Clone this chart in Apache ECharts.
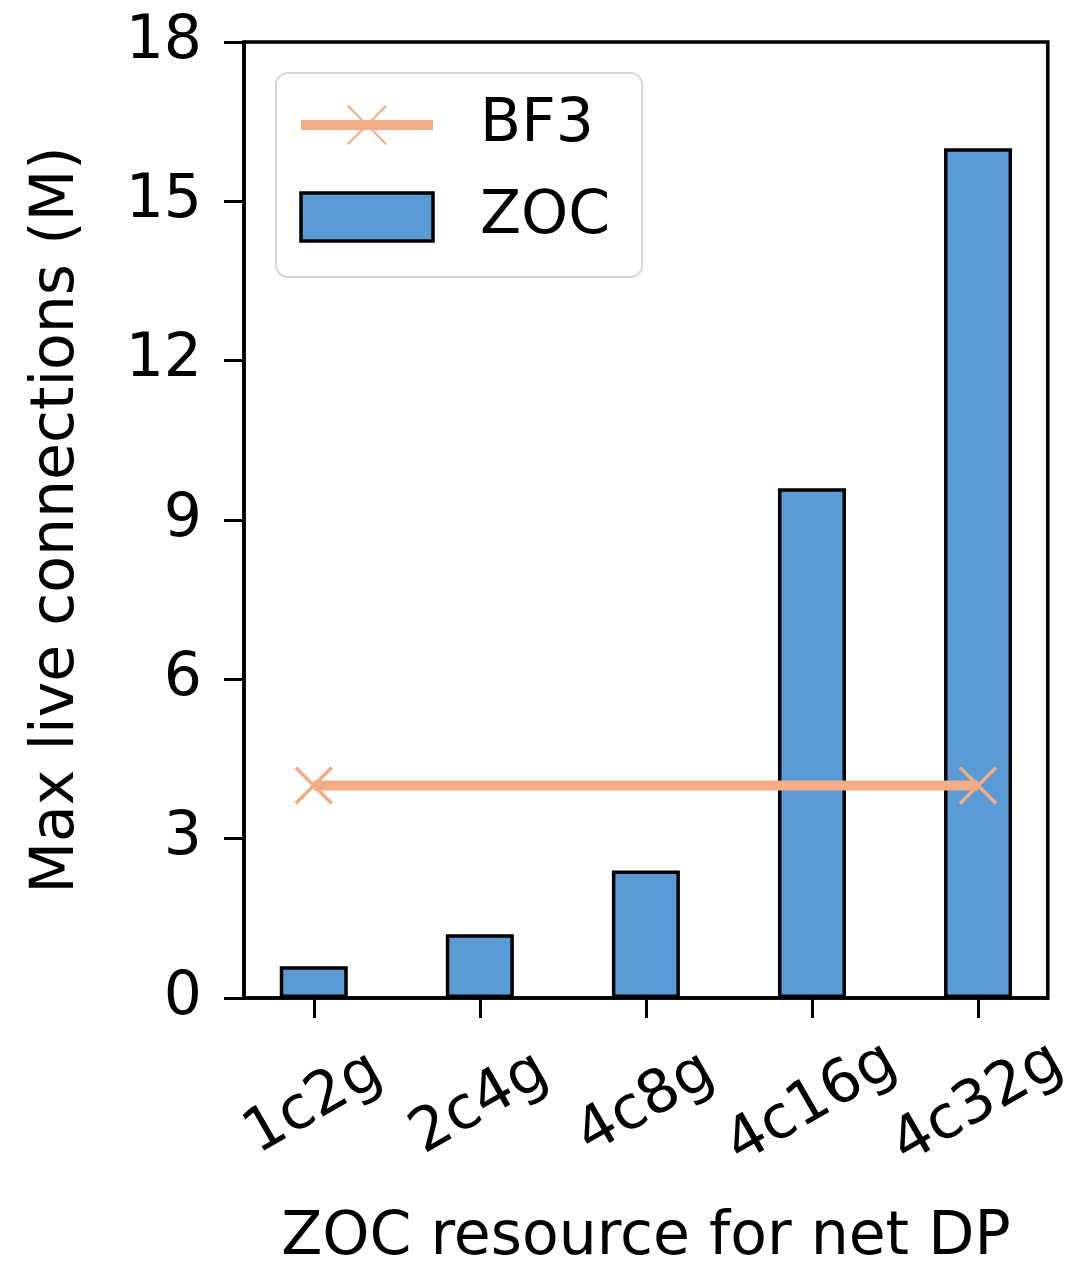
<!DOCTYPE html>
<html lang="en">
<head>
    <meta charset="UTF-8">
    <title>ZOC max live connections</title>
    <script src="https://cdn.jsdelivr.net/npm/echarts@6/dist/echarts.min.js"></script>
    <style>
        html, body { margin: 0; padding: 0; background: #fff; }
    </style>
</head>
<body>
    <div id="main" style="width:1076px;height:1273px;"></div>
    <script>
        // data
        let categories = ['1c2g', '2c4g', '4c8g', '4c16g', '4c32g'];
        let zocValues = [0.6, 1.2, 2.4, 9.6, 16.0];
        let bf3Values = [4.0, null, null, null, 4.0];
        let yTicks = [0, 3, 6, 9, 12, 15, 18];

        let font = 'DejaVu Sans';
        let orange = '#f2ad86';
        let idx = categories.map(function (c, i) { return i; });

        let Chart = echarts.init(document.getElementById('main'));

        Chart.setOption({
            backgroundColor: '#fff',
            animation: false,
            textStyle: { fontFamily: font, color: '#000' },
            grid: {
                left: 244,
                right: 26,
                top: 42,
                bottom: 272,
                show: true,
                borderColor: '#000',
                borderWidth: 3.5,
                backgroundColor: 'transparent'
            },
            legend: {
                orient: 'vertical',
                left: 276,
                top: 73,
                data: [
                    { name: 'BF3', lineStyle: { width: 10, color: orange } },
                    { name: 'ZOC', icon: 'rect', itemStyle: { borderColor: '#000', borderWidth: 3.5 } }
                ],
                itemWidth: 132,
                itemHeight: 48,
                itemGap: 32,
                padding: [22, 32, 30, 20],
                backgroundColor: 'rgba(255,255,255,0.8)',
                borderColor: '#d6d6d6',
                borderWidth: 2,
                borderRadius: 12,
                textStyle: { fontSize: 60, fontFamily: font, color: '#000', padding: [0, 0, 0, 42] }
            },
            xAxis: {
                type: 'value',
                min: -0.42,
                max: 4.42,
                name: 'ZOC resource for net DP',
                nameLocation: 'middle',
                nameGap: 210,
                nameTextStyle: { fontSize: 60, fontFamily: font, color: '#000' },
                splitLine: { show: false },
                axisLine: { show: true, onZero: false, lineStyle: { color: '#000', width: 3.5 } },
                axisTick: {
                    show: true,
                    customValues: idx,
                    length: 20,
                    lineStyle: { color: '#000', width: 3 }
                },
                axisLabel: {
                    customValues: idx,
                    rotate: 30,
                    align: 'center',
                    verticalAlign: 'middle',
                    margin: 106,
                    fontSize: 60,
                    fontFamily: font,
                    color: '#000',
                    formatter: function (v) { return categories[Math.round(v)]; }
                }
            },
            yAxis: {
                type: 'value',
                min: yTicks[0],
                max: yTicks[yTicks.length - 1],
                interval: 3,
                name: 'Max live connections (M)',
                nameLocation: 'middle',
                nameGap: 157,
                nameTextStyle: { fontSize: 60, fontFamily: font, color: '#000' },
                splitLine: { show: false },
                axisLine: { show: true, onZero: false, lineStyle: { color: '#000', width: 3.5 } },
                axisTick: { show: true, length: 20, lineStyle: { color: '#000', width: 3 } },
                axisLabel: { margin: 42, fontSize: 60, fontFamily: font, color: '#000' }
            },
            series: [
                {
                    name: 'ZOC',
                    type: 'bar',
                    barWidth: 68,
                    data: zocValues.map(function (v, i) { return [i, v]; }),
                    itemStyle: {
                        color: '#5b9bd5',
                        borderColor: '#000',
                        borderWidth: 3.5
                    },
                    z: 2
                },
                {
                    name: 'BF3',
                    type: 'line',
                    connectNulls: true,
                    data: bf3Values.map(function (v, i) { return [i, v]; }),
                    symbol: 'path://M0,0L10,10M10,0L0,10',
                    symbolSize: 36,
                    showAllSymbol: true,
                    lineStyle: { color: orange, width: 10 },
                    itemStyle: {
                        color: orange,
                        borderColor: orange,
                        borderWidth: 3.5
                    },
                    z: 3
                }
            ]
        });
    </script>
</body>
</html>
